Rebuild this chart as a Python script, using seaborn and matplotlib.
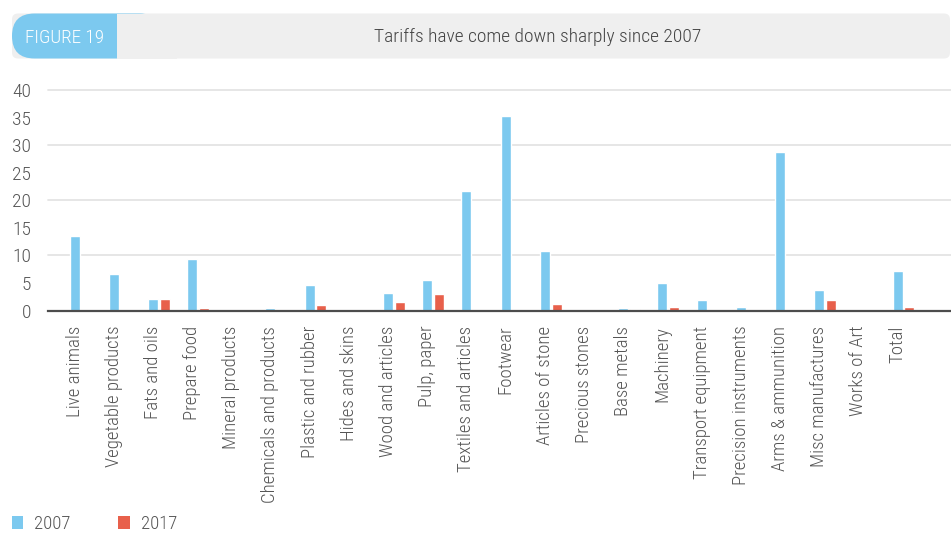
import numpy as np
import pandas as pd
import matplotlib
matplotlib.use("Agg")
import matplotlib.pyplot as plt
from matplotlib.patches import FancyBboxPatch, Rectangle, Patch
import seaborn as sns

# Tariff rates (%) by product group
categories = [
    "Live animals", "Vegetable products", "Fats and oils", "Prepare food",
    "Mineral products", "Chemicals and products", "Plastic and rubber",
    "Hides and skins", "Wood and articles", "Pulp, paper",
    "Textiles and articles", "Footwear", "Articles of stone", "Precious stones",
    "Base metals", "Machinery", "Transport equipment", "Precision instruments",
    "Arms & ammunition", "Misc manufactures", "Works of Art", "Total",
]
tariff_2007 = [13.6, 6.7, 2.1, 9.3, 0.0, 0.4, 4.7, 0.0, 3.2, 5.6, 21.7,
               35.3, 10.8, 0.0, 0.4, 5.0, 1.9, 0.7, 28.7, 3.8, 0.0, 7.2]
tariff_2017 = [0.0, 0.0, 2.1, 0.5, 0.0, 0.0, 1.0, 0.0, 1.6, 3.0, 0.0,
               0.0, 1.1, 0.0, 0.25, 0.7, 0.1, 0.0, 0.0, 1.9, 0.0, 0.7]
years = ["2007", "2017"]
y_ticks = [0, 5, 10, 15, 20, 25, 30, 35, 40]
grid_levels = [10, 20, 30, 40]

BLUE = "#7cc9ef"
RED = "#e8604b"
GREY_TXT = "#555555"
BANNER = "#efefef"
FONT = ["Roboto Condensed", "DejaVu Sans"]

df = pd.DataFrame({
    "category": categories * 2,
    "year": [years[0]] * len(categories) + [years[1]] * len(categories),
    "tariff": tariff_2007 + tariff_2017,
})

sns.set_theme(style="white")
plt.rcParams["font.family"] = FONT
plt.rcParams["font.weight"] = "light"

W, H = 951, 533
fig = plt.figure(figsize=(W / 100, H / 100), dpi=100)
fig.patch.set_facecolor("white")

# Header banner, drawn in pixel space
bg = fig.add_axes([0, 0, 1, 1], zorder=-1)
bg.set_xlim(0, W)
bg.set_ylim(H, 0)
bg.axis("off")
bg.add_patch(FancyBboxPatch((12, 13.5), 938, 45, boxstyle="round,pad=0,rounding_size=6",
                            fc=BANNER, ec="none"))
bg.add_patch(FancyBboxPatch((12, 13.5), 150, 45, boxstyle="round,pad=0,rounding_size=22.5",
                            fc=BLUE, ec="none"))
bg.add_patch(Rectangle((117, 13.5), 60, 45, fc=BANNER, ec="none"))
bg.text(25, 37.5, "FIGURE 19", color="white", fontsize=13.8, family=FONT,
        ha="left", va="center")
bg.text(538, 37.5, "Tariffs have come down sharply since 2007", color="#444444",
        fontsize=14, family=FONT, ha="center", va="center")

# Main bar chart
ax = fig.add_axes([48 / W, 1 - 310.5 / H, (W - 48) / W, (310.5 - 90) / H])
sns.barplot(data=df, x="category", y="tariff", hue="year", order=categories,
            hue_order=years, palette=[BLUE, RED], width=0.6, gap=0.15,
            dodge=True, errorbar=None, ax=ax, legend=False, saturation=1)

ax.set_xlim(-0.827, 22.215)
ax.set_ylim(0, 40)
for lvl in grid_levels:
    ax.axhline(lvl, color="#e4e4e4", lw=1.3, zorder=0, clip_on=False)

for s in ["top", "right", "left"]:
    ax.spines[s].set_visible(False)
ax.spines["bottom"].set_color("#4d4d4d")
ax.spines["bottom"].set_linewidth(1.6)
ax.spines["bottom"].set_zorder(5)

ax.set_yticks(y_ticks)
ax.set_yticklabels([str(v) for v in y_ticks])
ax.set_xticks(np.arange(len(categories)) - 0.15)
ax.set_xticklabels(categories, rotation=90)
ax.tick_params(axis="x", length=0, pad=11, labelsize=13.5, labelcolor=GREY_TXT)
ax.tick_params(axis="y", length=0, pad=12, labelsize=14, labelcolor=GREY_TXT)
ax.set_xlabel("")
ax.set_ylabel("")
ax.set_facecolor("none")

handles = [Patch(fc=BLUE, ec="none"), Patch(fc=RED, ec="none")]
fig.legend(handles, years, loc="center left", bbox_to_anchor=(4 / W, 1 - 524 / H),
           ncol=2, frameon=False, fontsize=13.5, labelcolor=GREY_TXT,
           handlelength=0.6, handleheight=0.75, handletextpad=0.6,
           columnspacing=2.55, borderaxespad=0)

fig.savefig("out.png", dpi=100)
